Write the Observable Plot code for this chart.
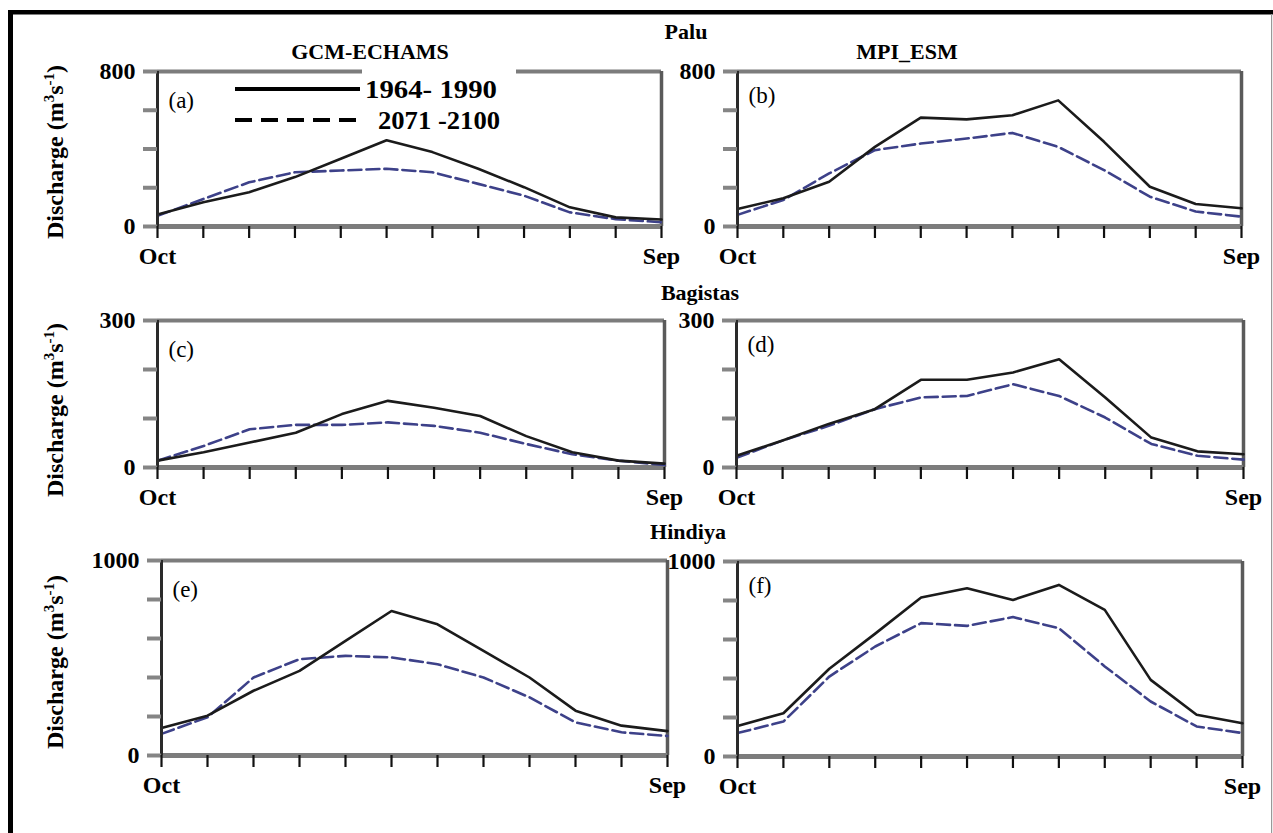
<!DOCTYPE html>
<html>
<head>
<meta charset="utf-8">
<script src="https://cdn.jsdelivr.net/npm/d3@7"></script>
<script src="https://cdn.jsdelivr.net/npm/@observablehq/plot@0.6"></script>
<style>
  body { margin: 0; background: #fff; }
  #wrap { position: relative; width: 1273px; height: 833px; overflow: hidden; background: #fff;
          font-family: 'Liberation Serif', 'Times New Roman', serif; color: #000; }
  #wrap svg text { font-family: 'Liberation Serif', 'Times New Roman', serif; }
  .t { position: absolute; font-family: 'Liberation Serif', serif; font-weight: bold; font-size: 22px;
       white-space: nowrap; line-height: 1; transform: translate(-50%, -50%); }
  .yl { position: absolute; font-family: 'Liberation Serif', serif; font-weight: bold; font-size: 24px;
        white-space: nowrap; line-height: 1; transform: translate(-50%, -50%) rotate(-90deg); }
  .yl sup { font-size: 15px; vertical-align: 9px; line-height: 0; }
  .panel { position: absolute; }
  .panel svg { overflow: visible; }
  #overlay { position: absolute; left: 0; top: 0; pointer-events: none; }
</style>
</head>
<body>
<div id="wrap"></div>
<script>
// ---------- data ----------
const months = ["Oct","Nov","Dec","Jan","Feb","Mar","Apr","May","Jun","Jul","Aug","Sep"];
const seriesNames = ["1964- 1990", "2071 -2100"];
const stations = ["Palu", "Bagistas", "Hindiya"];
const models = ["GCM-ECHAMS", "MPI_ESM"];
const panelLetters = ["(a)", "(b)", "(c)", "(d)", "(e)", "(f)"];

// Palu
const paluEchamBase = [62, 125, 177, 255, 350, 445, 384, 298, 203, 99, 47, 36];
const paluEchamFut  = [55, 142, 228, 280, 289, 298, 280, 220, 159, 73, 38, 22];
const paluMpiBase   = [90, 146, 231, 411, 562, 553, 574, 651, 437, 205, 116, 94];
const paluMpiFut    = [60, 137, 274, 394, 428, 454, 483, 411, 291, 154, 77, 51];
// Bagistas
const bagEchamBase  = [14, 31, 51, 71, 109, 136, 122, 105, 64, 31, 14, 8];
const bagEchamFut   = [14, 44, 78, 87, 87, 92, 85, 71, 48, 27, 14, 5];
const bagMpiBase    = [24, 55, 89, 119, 179, 179, 194, 221, 143, 61, 33, 27];
const bagMpiFut     = [20, 55, 85, 119, 143, 146, 170, 146, 102, 48, 24, 16];
// Hindiya
const hinEchamBase  = [141, 204, 332, 434, 588, 741, 673, 537, 400, 230, 153, 125];
const hinEchamFut   = [111, 196, 400, 494, 511, 503, 468, 400, 298, 170, 119, 100];
const hinMpiBase    = [157, 222, 450, 630, 815, 863, 803, 880, 752, 393, 214, 171];
const hinMpiFut     = [120, 179, 410, 564, 684, 670, 715, 658, 462, 282, 154, 120];

// y-axis maxima and tick steps per station row
const yMax  = [800, 300, 1000];
const yStep = [200, 100, 200];

// ---------- layout ----------
const W = 1273, H = 833;
const wrap = document.getElementById("wrap");
const FONT = "Liberation Serif, Times New Roman, serif";

const panels = [
  {base: paluEchamBase, fut: paluEchamFut, row: 0, L: 157, R: 661, T: 71, B: 226},
  {base: paluMpiBase,   fut: paluMpiFut,   row: 0, L: 737, R: 1241, T: 71, B: 226},
  {base: bagEchamBase,  fut: bagEchamFut,  row: 1, L: 157, R: 664, T: 320, B: 467},
  {base: bagMpiBase,    fut: bagMpiFut,    row: 1, L: 736, R: 1243, T: 320, B: 467},
  {base: hinEchamBase,  fut: hinEchamFut,  row: 2, L: 161, R: 667, T: 560, B: 755},
  {base: hinMpiBase,    fut: hinMpiFut,    row: 2, L: 737, R: 1242, T: 561, B: 756}
];

const mL = 70, mR = 15, mT = 15, mB = 45;

panels.forEach((p, i) => {
  const max = yMax[p.row];
  const ticks = d3.range(0, max + 1, yStep[p.row]);
  const rows = months.map((m, k) => ({k, base: p.base[k], fut: p.fut[k]}));
  const chart = Plot.plot({
    width: (p.R - p.L) + mL + mR,
    height: (p.B - p.T) + mT + mB,
    marginLeft: mL, marginRight: mR, marginTop: mT, marginBottom: mB,
    x: {domain: [0, months.length - 1]},
    y: {domain: [0, max]},
    style: {fontFamily: FONT, fontWeight: "bold", color: "#000", background: "transparent", overflow: "visible"},
    marks: [
      Plot.ruleY([max], {stroke: "#7c7c7c", strokeWidth: 4}),
      Plot.ruleX([months.length - 1], {stroke: "#5a5a5a", strokeWidth: 3.5}),
      Plot.ruleY([0], {stroke: "#7c7c7c", strokeWidth: 5}),
      Plot.line(rows, {x: "k", y: "fut", stroke: "#3d4189", strokeWidth: 2.6, strokeDasharray: "13,5"}),
      Plot.line(rows, {x: "k", y: "base", stroke: "#1b1b1b", strokeWidth: 2.6}),
      Plot.ruleX([0], {stroke: "#2a2a2a", strokeWidth: 3}),
      Plot.axisY({ticks, tickSize: 14, tickPadding: 8, stroke: "#858585", strokeWidth: 4,
                  fontSize: 24, fontFamily: FONT, fontWeight: "bold", fill: "#000", label: null,
                  tickFormat: d => (d === 0 || d === max) ? String(d) : ""}),
      Plot.axisX({ticks: d3.range(months.length), tickSize: 12, tickPadding: 8, stroke: "#111", strokeWidth: 2.2,
                  fontSize: 24, fontFamily: FONT, fontWeight: "bold", fill: "#000", label: null,
                  tickFormat: k => (k === 0 || k === months.length - 1) ? months[k] : ""}),
      Plot.text([panelLetters[i]], {frameAnchor: "top-left", dx: 11, dy: (i % 2 === 0 ? 29 : 24),
                  textAnchor: "start", lineAnchor: "middle", fontSize: 23, fontFamily: FONT,
                  fontWeight: "normal", fill: "#000"})
    ]
  });
  const div = document.createElement("div");
  div.className = "panel";
  div.style.left = (p.L - mL) + "px";
  div.style.top = (p.T - mT) + "px";
  div.appendChild(chart);
  wrap.appendChild(div);
});

// ---------- text labels ----------
function addText(txt, x, y, cls) {
  const d = document.createElement("div");
  d.className = cls || "t";
  d.innerHTML = txt;
  d.style.left = x + "px";
  d.style.top = y + "px";
  wrap.appendChild(d);
}
addText(stations[0], 686, 32);
addText(models[0], 370, 52);
addText(models[1], 907, 52);
addText(stations[1], 700, 293);
addText(stations[2], 688, 532);
const yLab = 'Discharge (m<sup>3</sup>s<sup>-1</sup>)';
addText(yLab, 55, 152, "yl");
addText(yLab, 55, 410, "yl");
addText(yLab, 55, 662, "yl");

// ---------- overlay: border + legend ----------
const svg = d3.select(wrap).append("svg").attr("id", "overlay").attr("width", W).attr("height", H);
svg.append("rect").attr("x", 8).attr("y", 10).attr("width", W - 8).attr("height", 4.5).attr("fill", "#000");
svg.append("rect").attr("x", 8).attr("y", 10).attr("width", 5).attr("height", H - 10).attr("fill", "#000");
svg.append("rect").attr("x", W - 2).attr("y", 14).attr("width", 1.2).attr("height", H - 14).attr("fill", "#999");

// legend (white box over the top frame behind text)
svg.append("rect").attr("x", 362).attr("y", 66).attr("width", 154).attr("height", 12).attr("fill", "#fff");
const leg = [
  {name: seriesNames[0], y: 89, dash: null, tx: 365, len: 132},
  {name: seriesNames[1], y: 120, dash: "17,9", tx: 378, len: 122}
];
leg.forEach(l => {
  svg.append("line").attr("x1", 235).attr("x2", 360).attr("y1", l.y).attr("y2", l.y)
    .attr("stroke", "#000").attr("stroke-width", 4).attr("stroke-dasharray", l.dash);
  svg.append("text").attr("x", l.tx).attr("y", l.y + 8.5)
    .attr("font-family", FONT).attr("font-weight", "bold").attr("font-size", 25)
    .attr("textLength", l.len).attr("lengthAdjust", "spacingAndGlyphs")
    .text(l.name);
});
</script>
</body>
</html>
